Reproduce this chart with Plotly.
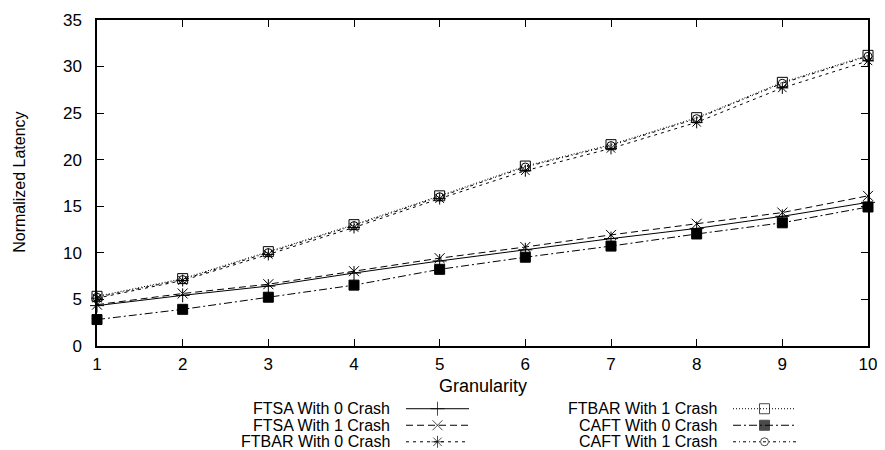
import plotly.graph_objects as go

# ---- data ----
granularity = [1, 2, 3, 4, 5, 6, 7, 8, 9, 10]
ftsa0 = [4.3, 5.4, 6.4, 7.8, 9.1, 10.3, 11.5, 12.6, 13.9, 15.4]
ftsa1 = [4.4, 5.6, 6.6, 8.0, 9.4, 10.6, 11.9, 13.1, 14.3, 16.1]
ftbar0 = [5.1, 7.0, 9.8, 12.7, 15.8, 18.8, 21.2, 24.0, 27.7, 30.6]
ftbar1 = [5.3, 7.2, 10.1, 13.0, 16.1, 19.3, 21.6, 24.5, 28.3, 31.2]
caft0 = [2.8, 3.9, 5.2, 6.5, 8.2, 9.5, 10.7, 12.0, 13.2, 14.9]
caft1 = [5.2, 7.1, 10.0, 12.9, 16.0, 19.2, 21.5, 24.4, 28.2, 31.1]
names = ["FTSA With 0 Crash", "FTSA With 1 Crash", "FTBAR With 0 Crash",
         "FTBAR With 1 Crash", "CAFT With 0 Crash", "CAFT With 1 Crash"]
y_ticks = [0, 5, 10, 15, 20, 25, 30, 35]

# ---- styles ----
series = [ftsa0, ftsa1, ftbar0, ftbar1, caft0, caft1]
dashes = ["solid", "7px,4px", "3px,4px", "1px,2px", "8px,3px,2px,3px", "3px,3px,1px,3px"]
symbols = ["cross-thin-open", "x-thin-open", "asterisk-open", "square-open", "square", "circle-open"]
msizes = [10, 10, 10, 10, 10, 8]

FONT = "Liberation Sans, Arial, Helvetica, sans-serif"
W, H = 885, 450
OFF = 8                      # page body margin offset
P_LEFT, P_RIGHT, P_TOP, P_BOTTOM = 97, 868, 20, 345   # target page pixels of plot box
ML = P_LEFT - OFF
MR = W - (P_RIGHT - OFF)
MT = P_TOP - OFF
SPAN = 427.2                 # observed page pixels per unit paper fraction (vertical)


def frac(page_y):
    return 1 - (page_y - P_TOP) / SPAN


main_bottom = frac(P_BOTTOM)
leg_top_page = 372
leg_dom = frac(leg_top_page)
leg_bottom_page = P_TOP + SPAN

fig = go.Figure()
for vals, nm, dsh, sym, ms in zip(series, names, dashes, symbols, msizes):
    fig.add_trace(go.Scatter(
        x=granularity, y=vals, name=nm, mode="lines+markers",
        line=dict(color="black", width=1, dash=dsh),
        marker=dict(symbol=sym, size=ms, color="black",
                    line=dict(color="black", width=1)),
        cliponaxis=False, showlegend=False))

# ---- custom gnuplot-style legend (page pixel coordinates via hidden axes) ----
rows_px = [408, 424.5, 441]
col_text_right = [392, 719]
col_line = [(406, 469), (733, 796)]
for i, (nm, dsh, sym, ms) in enumerate(zip(names, dashes, symbols, msizes)):
    c, r = divmod(i, 3)
    x0, x1 = col_line[c]
    yy = rows_px[r]
    fig.add_trace(go.Scatter(
        x=[x0, (x0 + x1) / 2, x1], y=[yy, yy, yy], mode="lines+markers",
        xaxis="x2", yaxis="y2",
        line=dict(color="black", width=1, dash=dsh),
        marker=dict(symbol=sym, size=[0, ms, 0], color="black",
                    line=dict(color="black", width=1)),
        cliponaxis=False, showlegend=False, hoverinfo="skip"))
    fig.add_annotation(x=col_text_right[c], y=yy, xref="x2", yref="y2",
                       text=nm, showarrow=False, xanchor="right", yanchor="middle",
                       font=dict(family=FONT, size=16, color="black"))

# axis titles
fig.add_annotation(x=(P_LEFT + P_RIGHT) / 2, y=385, xref="x2", yref="y2",
                   text="Granularity", showarrow=False, xanchor="center", yanchor="middle",
                   font=dict(family=FONT, size=18, color="black"))
fig.add_annotation(x=0, y=(1 + main_bottom) / 2, xref="paper", yref="paper", xshift=-77,
                   text="Normalized Latency", textangle=-90, showarrow=False,
                   xanchor="center", yanchor="middle",
                   font=dict(family=FONT, size=16, color="black"))

axis_common = dict(showgrid=False, zeroline=False, showline=True, linecolor="black",
                   linewidth=1.5, mirror="ticks", ticks="inside", ticklen=7,
                   tickcolor="black", tickwidth=1,
                   tickfont=dict(family=FONT, size=17, color="black"))

fig.update_layout(
    width=W, height=H,
    margin=dict(l=ML, r=MR, t=MT, b=0, pad=0),
    paper_bgcolor="white", plot_bgcolor="white",
    xaxis=dict(range=[1, 10], tickvals=granularity, ticklabelstandoff=2,
               domain=[0, 1], anchor="y", **axis_common),
    yaxis=dict(range=[0, 35], tickvals=y_ticks, ticklabelstandoff=10,
               domain=[main_bottom, 1], anchor="x", **axis_common),
    xaxis2=dict(range=[P_LEFT, P_RIGHT], domain=[0, 1], anchor="y2", visible=False),
    yaxis2=dict(range=[leg_bottom_page, leg_top_page], domain=[0, leg_dom],
                anchor="x2", visible=False),
    showlegend=False,
)

fig.write_html("out.html")
